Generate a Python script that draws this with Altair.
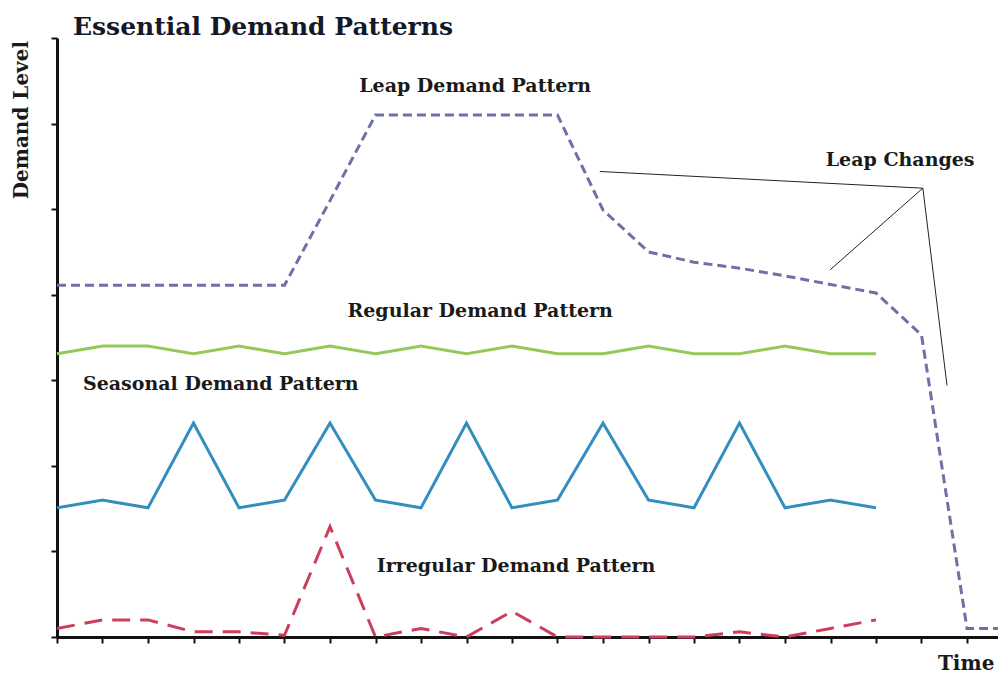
import altair as alt
import pandas as pd

# ---- data ----
periods_leap = list(range(22))
leap = [4.11, 4.11, 4.11, 4.11, 4.11, 4.11, 5.10, 6.10, 6.10, 6.10, 6.10, 6.10,
        4.99, 4.50, 4.38, 4.31, 4.22, 4.12, 4.02, 3.53, 0.10, 0.10]
periods = list(range(19))
regular = [3.31, 3.40, 3.40, 3.31, 3.40, 3.31, 3.40, 3.31, 3.40, 3.31, 3.40,
           3.31, 3.31, 3.40, 3.31, 3.31, 3.40, 3.31, 3.31]
seasonal = [1.51, 1.60, 1.51, 2.50, 1.51, 1.60, 2.50, 1.60, 1.51, 2.50, 1.51,
            1.60, 2.50, 1.60, 1.51, 2.50, 1.51, 1.60, 1.51]
irregular = [0.10, 0.20, 0.20, 0.06, 0.06, 0.02, 1.29, 0.00, 0.10, 0.00, 0.30,
             0.00, 0.00, 0.00, 0.00, 0.06, 0.00, 0.10, 0.20]

series_names = ["Leap", "Regular", "Seasonal", "Irregular"]
series_colors = ["#6f70a6", "#94c95a", "#338dbf", "#cc3e5c"]

# callout lines for "Leap Changes" (apex -> targets), in data units
callout_apex = (19.03, 5.245)
callout_targets_x = [11.93, 16.99, 19.56]
callout_targets_y = [5.44, 4.29, 2.94]

labels = ["Leap Demand Pattern", "Regular Demand Pattern", "Seasonal Demand Pattern",
          "Irregular Demand Pattern", "Leap Changes"]
label_x = [9.19, 9.30, 3.60, 10.09, 18.53]
label_y = [6.44, 3.81, 2.96, 0.83, 5.57]

PLOT_W = 941
X_MAX = PLOT_W / 45.5
FONT = "DejaVu Serif"

rows = []
for p, v in zip(periods_leap, leap):
    rows.append({"t": p, "v": v, "s": "Leap"})
for name, vals in [("Regular", regular), ("Seasonal", seasonal), ("Irregular", irregular)]:
    for p, v in zip(periods, vals):
        rows.append({"t": p, "v": v, "s": name})
df = pd.DataFrame(rows)

xs = alt.Scale(domain=[0, X_MAX], nice=False, zero=False)
ys = alt.Scale(domain=[0, 7], nice=False)

x_axis = alt.Axis(values=list(range(21)), labels=False, title=None, grid=False,
                  tickSize=6, tickWidth=2, tickColor="#111", domainWidth=3,
                  domainColor="#111")
y_axis = alt.Axis(values=list(range(8)), labels=False, title=None, grid=False,
                  tickSize=6, tickWidth=2, tickColor="#111", domainWidth=3,
                  domainColor="#111")


def line_layer(name, color, dash):
    return alt.Chart(df[df.s == name]).mark_line(
        color=color, strokeWidth=3, strokeDash=dash
    ).encode(
        x=alt.X("t:Q", scale=xs, axis=x_axis),
        y=alt.Y("v:Q", scale=ys, axis=y_axis),
    )


lines = [
    line_layer("Regular", series_colors[1], [1, 0]),
    line_layer("Seasonal", series_colors[2], [1, 0]),
    line_layer("Irregular", series_colors[3], [18, 10]),
    line_layer("Leap", series_colors[0], [9, 5]),
]

callout_df = pd.DataFrame({
    "x": [callout_apex[0]] * 3, "y": [callout_apex[1]] * 3,
    "x2": callout_targets_x, "y2": callout_targets_y,
})
callouts = alt.Chart(callout_df).mark_rule(color="#222", strokeWidth=1).encode(
    x=alt.X("x:Q", scale=xs), y=alt.Y("y:Q", scale=ys), x2="x2:Q", y2="y2:Q"
)

label_df = pd.DataFrame({"label": labels, "x": label_x, "y": label_y})
label_layer = alt.Chart(label_df).mark_text(
    font=FONT, fontSize=19, fontWeight="bold", color="#1a1a1a", align="center", baseline="middle"
).encode(x=alt.X("x:Q", scale=xs), y=alt.Y("y:Q", scale=ys), text="label:N")

title_layer = alt.Chart(pd.DataFrame({"label": ["Essential Demand Patterns"], "x": [0.35], "y": [7.13]})).mark_text(
    font=FONT, fontSize=25, fontWeight="bold", color="#14192a", align="left", baseline="middle"
).encode(x=alt.X("x:Q", scale=xs), y=alt.Y("y:Q", scale=ys), text="label:N")

ytitle_layer = alt.Chart(pd.DataFrame({"label": ["Demand Level"], "x": [-0.77], "y": [6.04]})).mark_text(
    font=FONT, fontSize=20, fontWeight="bold", color="#1a1a1a", align="center", baseline="middle", angle=270
).encode(x=alt.X("x:Q", scale=xs), y=alt.Y("y:Q", scale=ys), text="label:N")

xtitle_layer = alt.Chart(pd.DataFrame({"label": ["Time"], "x": [X_MAX - 0.08], "y": [-0.31]})).mark_text(
    font=FONT, fontSize=20, fontWeight="bold", color="#1a1a1a", align="right", baseline="middle"
).encode(x=alt.X("x:Q", scale=xs), y=alt.Y("y:Q", scale=ys), text="label:N")

chart = alt.layer(
    *lines, callouts, label_layer, title_layer, ytitle_layer, xtitle_layer
).properties(
    width=PLOT_W, height=599,
    autosize=alt.AutoSizeParams(type="none"),
    padding={"left": 49, "top": 30, "right": 0, "bottom": 41},
    background="white",
).configure_view(stroke=None)

chart.save("out.html", embed_options={"renderer": "svg", "actions": False})
